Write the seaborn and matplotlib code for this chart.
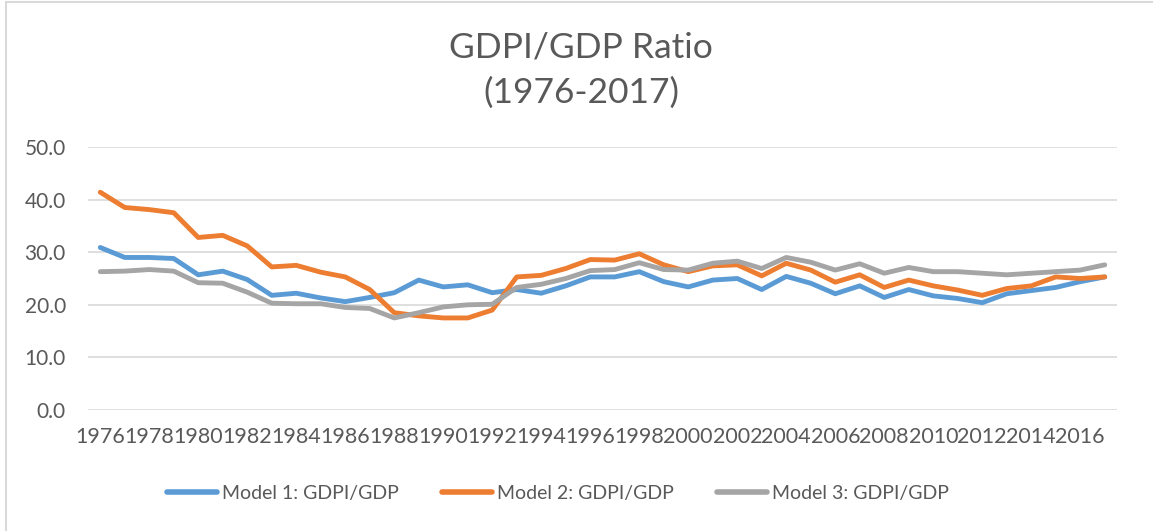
import numpy as np
import pandas as pd
import seaborn as sns
from matplotlib import pyplot as plt
from matplotlib.patches import Rectangle

# Data
years = list(range(1976, 2018))

model1 = [30.9, 29.0, 29.0, 28.8, 25.7, 26.4, 24.8, 21.8, 22.2, 21.3, 20.6, 21.4, 22.3, 24.7,
          23.4, 23.8, 22.3, 22.9, 22.2, 23.6, 25.3, 25.3, 26.3, 24.4, 23.4, 24.7, 25.0, 22.9,
          25.4, 24.1, 22.1, 23.6, 21.4, 22.9, 21.7, 21.2, 20.4, 22.1, 22.7, 23.3, 24.4, 25.3]
model2 = [41.4, 38.5, 38.1, 37.5, 32.8, 33.2, 31.2, 27.2, 27.5, 26.2, 25.3, 22.9, 18.5, 17.9,
          17.5, 17.5, 19.0, 25.3, 25.6, 26.9, 28.6, 28.5, 29.7, 27.6, 26.3, 27.4, 27.6, 25.5,
          27.9, 26.6, 24.3, 25.7, 23.3, 24.7, 23.6, 22.8, 21.8, 23.1, 23.6, 25.3, 25.0, 25.3]
model3 = [26.3, 26.4, 26.7, 26.4, 24.2, 24.1, 22.4, 20.3, 20.2, 20.2, 19.5, 19.3, 17.5, 18.5,
          19.6, 20.0, 20.1, 23.3, 23.9, 25.0, 26.5, 26.7, 28.0, 26.7, 26.6, 27.9, 28.3, 26.9,
          29.0, 28.1, 26.6, 27.8, 26.0, 27.1, 26.3, 26.3, 26.0, 25.7, 26.0, 26.3, 26.6, 27.6]

series_names = ['Model 1: GDPI/GDP', 'Model 2: GDPI/GDP', 'Model 3: GDPI/GDP']
colors = ['#5B9BD5', '#ED7D31', '#A5A5A5']

# Long-form table for seaborn
df = pd.DataFrame({
    'year': years * 3,
    'value': model1 + model2 + model3,
    'series': [s for s in series_names for _ in years],
})

sns.set_theme(style='white')
plt.rcParams['font.family'] = ['Lato', 'DejaVu Sans']
text_color = '#595959'

fig = plt.figure(figsize=(11.53, 5.31), dpi=100)
ax = fig.add_axes([88 / 1153, 1 - 410 / 531, (1117 - 88) / 1153, (410 - 147) / 531])

sns.lineplot(data=df, x='year', y='value', hue='series', palette=colors,
             linewidth=3.5, ax=ax, legend=False)
for line in ax.lines:
    line.set_solid_capstyle('round')
    line.set_solid_joinstyle('round')

ax.set_xlim(1975.5, 2017.5)
ax.set_ylim(0, 50)
ax.set_yticks(np.arange(0, 51, 10))
ax.set_yticklabels([f'{v:.1f}' for v in np.arange(0, 51, 10)])
ax.set_xticks(years[::2])
ax.set_xticklabels([str(y) for y in years[::2]])
ax.tick_params(axis='y', length=0, pad=16, labelsize=15, labelcolor=text_color)
ax.tick_params(axis='x', length=0, pad=12, labelsize=15.5, labelcolor=text_color)
ax.set_xlabel('')
ax.set_ylabel('')
ax.grid(axis='y', color='#D9D9D9', linewidth=1.2)
ax.set_axisbelow(True)
for s in ax.spines.values():
    s.set_visible(False)

# Title
fig.text(581 / 1153, 1 - 70 / 531, 'GDPI/GDP Ratio\n(1976-2017)', ha='center', va='center',
         fontsize=25.5, color=text_color, linespacing=1.5)

# Legend at bottom
handles = [plt.Line2D([], [], color=c, linewidth=4, solid_capstyle='round') for c in colors]
fig.legend(handles, series_names, loc='center', bbox_to_anchor=(558 / 1153, 1 - 493 / 531),
           ncol=3, frameon=False, fontsize=14, handlelength=2.6, handletextpad=0.25,
           columnspacing=2.2, labelcolor=text_color)

# Chart area border (cropped at right and bottom)
fig.patches.append(Rectangle((6 / 1153, -0.1), 1.2, 1.1 - 2 / 531, transform=fig.transFigure,
                             fill=False, edgecolor='#D9D9D9', linewidth=1.5))

plt.savefig('out.png', dpi=100)
